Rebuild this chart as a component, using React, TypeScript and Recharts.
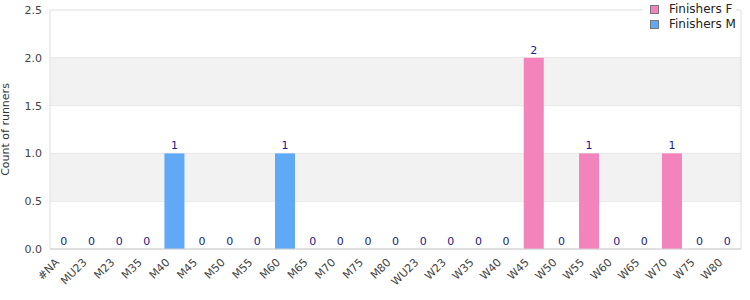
import React from 'react';
import { BarChart, Bar, XAxis, YAxis, CartesianGrid, ReferenceArea } from 'recharts';

const categories = ['#NA','MU23','M23','M35','M40','M45','M50','M55','M60','M65','M70','M75','M80','WU23','W23','W35','W40','W45','W50','W55','W60','W65','W70','W75','W80'];
const finishersM: (number | null)[] = [0,0,0,0,1,0,0,0,1,0,0,0,0,null,null,null,null,null,null,null,null,null,null,null,null];
const finishersF: (number | null)[] = [null,null,null,null,null,null,null,null,null,null,null,null,null,0,0,0,0,2,0,1,0,0,1,0,0];
const yTicks = [0, 0.5, 1, 1.5, 2, 2.5];
const bands = [[0.5, 1], [1.5, 2]];

const data = categories.map((c, i) => ({
  cat: c,
  count: finishersM[i] ?? finishersF[i] ?? 0,
  series: finishersM[i] !== null ? 'M' : 'F',
}));

const FONT = '"DejaVu Sans", Verdana, sans-serif';
const COLOR_M = '#60a9f6';
const COLOR_F = '#f383bb';
const LABEL_COLOR = '#1c1c8c';

const BarShape = (props: any) => {
  const { x, y, width, height, payload } = props;
  const fill = payload.series === 'M' ? COLOR_M : COLOR_F;
  return (
    <g>
      {height > 0 && <rect x={x} y={y} width={width} height={height} fill={fill} />}
      <text x={x + width / 2} y={y - 4} textAnchor="middle" fontSize={11} fontFamily={FONT} fill={LABEL_COLOR}>
        {payload.count}
      </text>
    </g>
  );
};

const XTick = (props: any) => {
  const { x, y, payload } = props;
  const ax = x - 4;
  const ay = y + 6;
  return (
    <text x={ax} y={ay} transform={`rotate(-45 ${ax} ${ay})`} textAnchor="end" fontSize={11} fontFamily={FONT} fill="#444">
      {payload.value}
    </text>
  );
};

const legendItems = [{ name: 'Finishers F', color: COLOR_F }, { name: 'Finishers M', color: COLOR_M }];

export default function App() {
  return (
    <div style={{ position: 'absolute', left: 0, top: 0, width: 750, height: 300 }}>
      <BarChart width={750} height={300} data={data} margin={{ top: 10, right: 0, left: 0, bottom: 0 }} barCategoryGap="14%">
        {bands.map(([a, b]) => (
          <ReferenceArea key={a} yAxisId="left" y1={a} y2={b} fill="#f2f2f2" fillOpacity={1} stroke="none" ifOverflow="visible" />
        ))}
        <CartesianGrid yAxisId="left" vertical={false} stroke="#dedede" />
        <XAxis dataKey="cat" interval={0} height={51} tick={<XTick />} tickLine={false} axisLine={{ stroke: '#d0d0d0' }} />
        <YAxis
          yAxisId="left"
          domain={[0, 2.5]}
          ticks={yTicks}
          width={50}
          tickLine={false}
          axisLine={{ stroke: '#dedede' }}
          tickFormatter={(v: number) => v.toFixed(1)}
          tick={{ fontSize: 11, fontFamily: FONT, fill: '#444' }}
          label={{ value: 'Count of runners', angle: -90, position: 'insideLeft', style: { fontSize: 11, fontFamily: FONT, fill: '#333', textAnchor: 'middle' } }}
        />
        <YAxis yAxisId="right" orientation="right" width={9} tick={false} tickLine={false} axisLine={{ stroke: '#dedede' }} domain={[0, 2.5]} />
        <Bar yAxisId="left" dataKey="count" name="Finishers" isAnimationActive={false} shape={<BarShape />} />
      </BarChart>
      <div style={{ position: 'absolute', top: 0, left: 643, width: 93, background: '#fff', padding: '2px 0 3px 0', fontFamily: FONT, fontSize: 12, color: '#222', lineHeight: '15px' }}>
        {legendItems.map((it) => (
          <div key={it.name} style={{ display: 'flex', alignItems: 'center', paddingLeft: 7 }}>
            <span style={{ display: 'inline-block', width: 7, height: 7, background: it.color, border: '1px solid #777', marginRight: 10 }} />
            <span>{it.name}</span>
          </div>
        ))}
      </div>
    </div>
  );
}
